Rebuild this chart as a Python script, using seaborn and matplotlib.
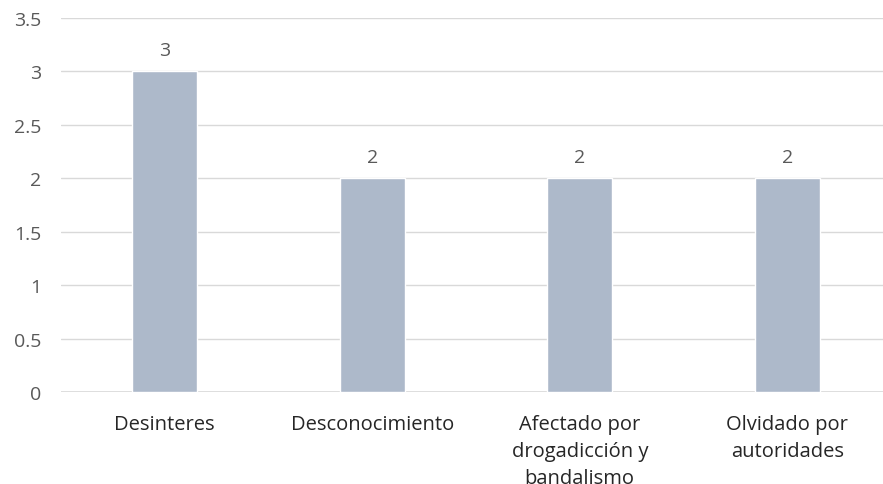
import matplotlib
matplotlib.use("Agg")
import matplotlib.pyplot as plt
import pandas as pd
import seaborn as sns

categories = ["Desinteres", "Desconocimiento", "Afectado por\ndrogadicción y\nbandalismo", "Olvidado por\nautoridades"]
values = [3, 2, 2, 2]
y_ticks = [0, 0.5, 1, 1.5, 2, 2.5, 3, 3.5]
y_tick_labels = ["0", "0.5", "1", "1.5", "2", "2.5", "3", "3.5"]

BAR_COLOR = "#ADB9CA"
TEXT_COLOR = "#595959"
GRID_COLOR = "#D9D9D9"

sns.set_theme(style="white")
plt.rcParams["font.family"] = ["Open Sans", "DejaVu Sans"]

df = pd.DataFrame({"category": categories, "value": values})

fig = plt.figure(figsize=(8.83, 4.85), dpi=100)
# plot area runs past the right edge, like the reference
ax = fig.add_axes([61 / 883, 1 - 393 / 485, 830 / 883, (393 - 19) / 485])

sns.barplot(data=df, x="category", y="value", color=BAR_COLOR, width=0.313,
            saturation=1, ax=ax, zorder=3)

ax.set_ylim(0, 3.5)
ax.set_yticks(y_ticks)
ax.set_yticklabels(y_tick_labels)
ax.yaxis.grid(True, color=GRID_COLOR, linewidth=1, zorder=0)
ax.set_axisbelow(True)
for side in ["left", "right", "top", "bottom"]:
    ax.spines[side].set_visible(False)
ax.axhline(0, color=GRID_COLOR, linewidth=1.2, zorder=1)

ax.set_xlabel("")
ax.set_ylabel("")
ax.tick_params(axis="y", length=0, pad=14, labelsize=14, labelcolor=TEXT_COLOR)
ax.tick_params(axis="x", length=0, pad=16, labelsize=14.5, labelcolor="#262626")
for lbl in ax.get_xticklabels():
    lbl.set_linespacing(1.45)

for container in ax.containers:
    ax.bar_label(container, fmt="%g", padding=9, fontsize=14, color=TEXT_COLOR)

fig.savefig("out.png", dpi=100)
